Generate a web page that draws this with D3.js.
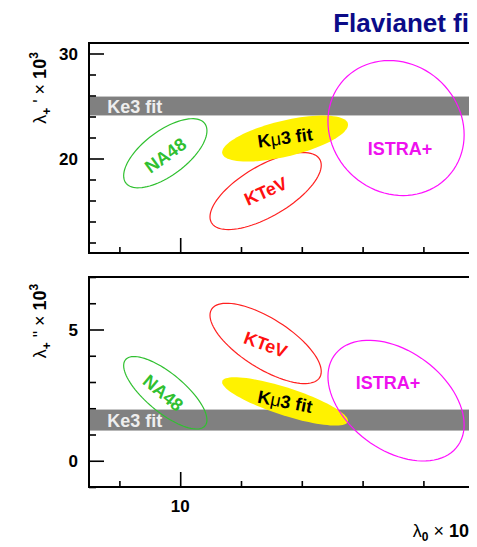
<!DOCTYPE html>
<html>
<head>
<meta charset="utf-8">
<script src="https://cdn.jsdelivr.net/npm/d3@7"></script>
<style>
  body { margin: 0; background: #fff; }
  svg text { font-family: "Liberation Sans", Arial, sans-serif; }
</style>
</head>
<body>
<div id="chart"></div>
<script>
// measurements: lambda0 (x) against lambda+' (top) and lambda+'' (bottom), all x10^3
var experiments = ["NA48", "KTeV", "K\u03bc3 fit", "ISTRA+"];
var lam0     = [9.51, 12.81, 13.45, 17.1];
var lam0Err  = [1.37, 1.83, 2.07, 2.24];
var lamP     = [20.5, 16.9, 21.9, 22.9];
var lamPErr  = [3.29, 3.67, 2.19, 6.43];
var rhoP     = [0.65, 0.67, 0.6, -0.1];
var lamPP    = [2.59, 4.47, 2.26, 2.29];
var lamPPErr = [1.38, 1.53, 0.92, 2.30];
var rhoPP    = [-0.75, -0.7, -0.8, -0.4];
var ke3P  = [25.0, 0.9];   // centre, half width
var ke3PP = [1.55, 0.4];
var xMajor = [10, 20];
var xMinor = [8, 12, 14, 16, 18];
var yTopMajor = [20, 30], yTopMinor = [12, 14, 16, 18, 22, 24, 26, 28];
var yBotMajor = [0, 5],   yBotMinor = [-1, 1, 2, 3, 4, 6, 7];

var W = 477, H = 547, clipX = 469;
var colors = { "NA48": "#30c030", "KTeV": "#ff2020", "K\u03bc3 fit": "#fff200", "ISTRA+": "#ff10ff" };
var labelColors = { "NA48": "#30c030", "KTeV": "#ff1010", "K\u03bc3 fit": "#000", "ISTRA+": "#ee10ee" };

var svg = d3.select("#chart").append("svg").attr("width", W).attr("height", H);
svg.append("defs").append("clipPath").attr("id", "clip")
   .append("rect").attr("x", 0).attr("y", 0).attr("width", clipX).attr("height", H);

var x = d3.scaleLinear().domain([7, 20.5]).range([89, 89 + 13.5 * 30.4]);

svg.append("text").attr("x", clipX).attr("y", 32).attr("text-anchor", "end")
   .attr("font-size", 26).attr("font-weight", "bold").attr("fill", "#0b0b88")
   .text("Flavianet fi");

var panels = [
  { y: d3.scaleLinear().domain([11, 31]).range([253, 43]), vals: lamP, errs: lamPErr, rho: rhoP,
    band: ke3P, major: yTopMajor, minor: yTopMinor, mark: "'", titleY: 88,
    rot: { "NA48": -36, "KTeV": -24, "K\u03bc3 fit": -8, "ISTRA+": 0 },
    off: { "NA48": [0, 2], "KTeV": [0, 0], "K\u03bc3 fit": [0, -1], "ISTRA+": [4, 20] } },
  { y: d3.scaleLinear().domain([-1, 7]).range([487, 277]), vals: lamPP, errs: lamPPErr, rho: rhoPP,
    band: ke3PP, major: yBotMajor, minor: yBotMinor, mark: "\"", titleY: 321,
    rot: { "NA48": 40, "KTeV": 20, "K\u03bc3 fit": 11, "ISTRA+": 0 },
    off: { "NA48": [-2, 0], "KTeV": [0, 1], "K\u03bc3 fit": [0, 0], "ISTRA+": [-8, -18] } }
];

panels.forEach(function (p, pi) {
  var y = p.y, y0 = y.range()[0], y1 = y.range()[1];
  var g = svg.append("g").attr("clip-path", "url(#clip)");

  // Ke3 band
  g.append("rect").attr("x", x(7)).attr("width", clipX - x(7))
    .attr("y", y(p.band[0] + p.band[1])).attr("height", y(p.band[0] - p.band[1]) - y(p.band[0] + p.band[1]))
    .attr("fill", "#808080");

  // ellipses (1 sigma contours)
  var line = d3.line().x(function (d) { return x(d[0]); }).y(function (d) { return y(d[1]); });
  experiments.forEach(function (e, i) {
    var pts = d3.range(0, 361, 4).map(function (a) {
      var t = a * Math.PI / 180, r = p.rho[i];
      return [lam0[i] + lam0Err[i] * Math.cos(t),
              p.vals[i] + p.errs[i] * (r * Math.cos(t) + Math.sqrt(1 - r * r) * Math.sin(t))];
    });
    var filled = e === "K\u03bc3 fit";
    g.append("path").attr("d", line(pts) + "Z")
      .attr("fill", filled ? colors[e] : "none")
      .attr("stroke", filled ? "none" : colors[e]).attr("stroke-width", 1.2);
  });

  g.append("text").attr("x", x(7.6)).attr("y", y(p.band[0]) + 6.5)
    .attr("font-size", 18).attr("font-weight", "bold").attr("fill", "#eeeeee").text("Ke3 fit");

  experiments.forEach(function (e, i) {
    var cx = x(lam0[i]) + p.off[e][0], cy = y(p.vals[i]) + p.off[e][1];
    var t = g.append("text").attr("transform", "translate(" + cx + "," + cy + ") rotate(" + p.rot[e] + ")")
      .attr("text-anchor", "middle").attr("dy", "0.36em")
      .attr("font-size", 18).attr("font-weight", "bold").attr("fill", labelColors[e]);
    if (e === "K\u03bc3 fit") {
      t.append("tspan").text("K");
      t.append("tspan").attr("font-weight", "normal").text("\u03bc");
      t.append("tspan").text("3 fit");
    } else t.text(e);
  });

  // axes: ticks inward, domain drawn by hand
  var yMaj = g.append("g").attr("transform", "translate(89,0)")
    .call(d3.axisLeft(y).tickValues(p.major).tickSize(-15).tickFormat(""));
  var yMin = g.append("g").attr("transform", "translate(89,0)")
    .call(d3.axisLeft(y).tickValues(p.minor).tickSize(-7).tickFormat(""));
  var xMaj = g.append("g").attr("transform", "translate(0," + y0 + ")")
    .call(d3.axisBottom(x).tickValues(xMajor).tickSize(-15).tickFormat(""));
  var xMin = g.append("g").attr("transform", "translate(0," + y0 + ")")
    .call(d3.axisBottom(x).tickValues(xMinor).tickSize(-6).tickFormat(""));
  [yMaj, yMin, xMaj, xMin].forEach(function (a) {
    a.select(".domain").remove();
    a.selectAll("line").attr("stroke", "#000").attr("stroke-width", 1.6);
  });

  g.append("path").attr("d", "M" + clipX + "," + y1 + "H89V" + y0 + "H" + clipX)
    .attr("fill", "none").attr("stroke", "#000").attr("stroke-width", 2);

  p.major.forEach(function (v) {
    svg.append("text").attr("x", 78).attr("y", y(v)).attr("dy", "0.36em").attr("text-anchor", "end")
      .attr("font-size", 17).attr("font-weight", "bold").text(v);
  });

  // y title
  var yt = svg.append("text").attr("transform", "translate(46," + p.titleY + ") rotate(-90)")
    .attr("text-anchor", "middle").attr("font-size", 18);
  yt.append("tspan").text("\u03bb");
  yt.append("tspan").attr("font-size", 12).attr("font-weight", "bold").attr("dy", 5).text("+");
  yt.append("tspan").attr("dy", -5).text(" " + p.mark + " \u00d7 ");
  yt.append("tspan").attr("font-weight", "bold").text("10");
  yt.append("tspan").attr("font-size", 12).attr("font-weight", "bold").attr("dy", -8).text("3");

  if (pi === 1) {
    svg.append("text").attr("x", x(10)).attr("y", y0 + 25).attr("text-anchor", "middle")
      .attr("font-size", 17).attr("font-weight", "bold").text("10");
    var xt = svg.append("text").attr("x", clipX).attr("y", 537).attr("text-anchor", "end").attr("font-size", 18);
    xt.append("tspan").text("\u03bb");
    xt.append("tspan").attr("font-size", 12).attr("font-weight", "bold").attr("dy", 4).text("0");
    xt.append("tspan").attr("dy", -4).text(" \u00d7 ");
    xt.append("tspan").attr("font-weight", "bold").text("10");
  }
});
</script>
</body>
</html>
